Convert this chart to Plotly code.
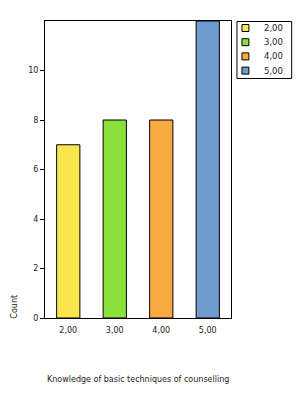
import plotly.graph_objects as go

categories = ["2,00", "3,00", "4,00", "5,00"]
counts = [7, 8, 8, 12]
colors = ["#FAE54C", "#8BE03A", "#F8AA3E", "#6F9BCF"]
y_ticks = [0, 2, 4, 6, 8, 10]

W, H = 304, 397
l, r, t, b = 44.5, 72.5, 21, 79
pw, ph = W - l - r, H - t - b

def px_x(x):
    return (x - l) / pw

def px_y(y):
    return (H - y - b) / ph

fig = go.Figure()
for c, v, col in zip(categories, counts, colors):
    fig.add_trace(go.Bar(
        x=[c], y=[v], name=c, marker=dict(color=col, line=dict(color="black", width=1)),
        width=0.5, showlegend=False, cliponaxis=True,
    ))

shapes = []
annotations = []
# legend box
shapes.append(dict(type="rect", xref="paper", yref="paper",
                   x0=px_x(237.5), x1=px_x(292.5), y0=px_y(78.5), y1=px_y(21.5),
                   line=dict(color="black", width=1), fillcolor="white"))
for i, (c, col) in enumerate(zip(categories, colors)):
    cy = 28 + i * 14.2
    shapes.append(dict(type="rect", xref="paper", yref="paper",
                       x0=px_x(242.5), x1=px_x(249.5), y0=px_y(cy + 3.5), y1=px_y(cy - 3.5),
                       line=dict(color="black", width=1), fillcolor=col))
    annotations.append(dict(text=c, x=px_x(263), y=px_y(cy), xref="paper", yref="paper",
                            xanchor="left", yanchor="middle", showarrow=False,
                            font=dict(size=8.5)))

annotations.append(dict(text="Count", x=px_x(13), y=px_y(307), xref="paper", yref="paper",
                        showarrow=False, textangle=-90, xanchor="center", yanchor="middle",
                        font=dict(size=8)))
annotations.append(dict(text="Knowledge of basic techniques of counselling", x=px_x(45), y=px_y(379),
                        xref="paper", yref="paper", showarrow=False, xanchor="left",
                        yanchor="middle", font=dict(size=8)))

fig.update_layout(
    width=W, height=H,
    margin=dict(l=l, r=r, t=t, b=b, pad=0),
    paper_bgcolor="white", plot_bgcolor="white",
    barmode="overlay",
    font=dict(family="DejaVu Sans", size=8, color="#222222"),
    xaxis=dict(
        type="category", range=[-0.5, 3.5], showline=True, linecolor="black", linewidth=1,
        mirror=True, ticks="outside", ticklen=4, tickcolor="rgba(0,0,0,0)",
        showgrid=False, tickfont=dict(size=8), zeroline=False,
    ),
    yaxis=dict(
        range=[0, 12], tickvals=y_ticks, ticktext=[str(v) for v in y_ticks],
        showline=True, linecolor="black", linewidth=1, mirror=True,
        ticks="outside", ticklen=4, tickcolor="black", showgrid=False, zeroline=False,
        tickfont=dict(size=8),
    ),
    showlegend=False,
    shapes=shapes,
    annotations=annotations,
)

fig.write_html("out.html")
